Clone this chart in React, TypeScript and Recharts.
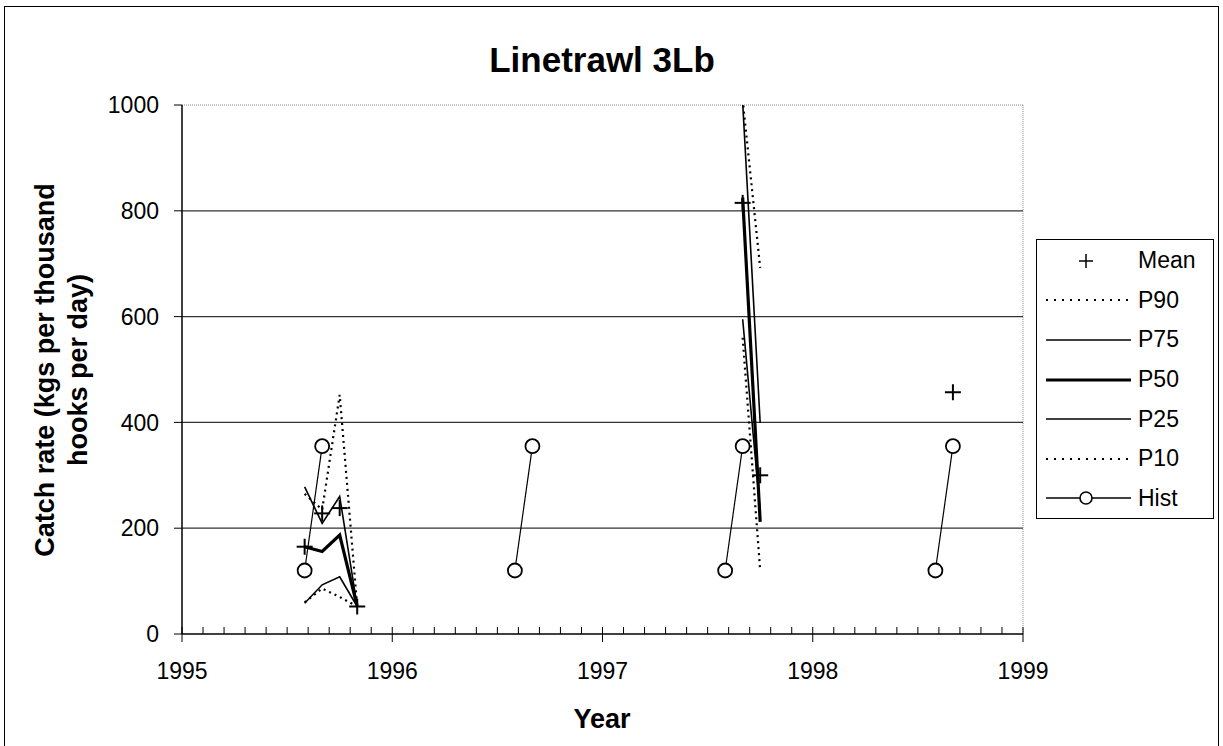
import React from 'react';
import { ComposedChart, Line, XAxis, YAxis, ReferenceLine } from 'recharts';

const FONT = '"Liberation Sans", Arial, Helvetica, sans-serif';

// sampled periods (year + month) across all series
const periodYears = [1995, 1995, 1995, 1995, 1996, 1996, 1997, 1997, 1997, 1998, 1998];
const periodMonths = [7, 8, 9, 10, 7, 8, 7, 8, 9, 7, 8];

const meanValues = [165, 228, 238, 52, null, null, null, 815, 300, null, 457];
const p90Values = [265, 235, 452, 52, null, null, null, 1010, 692, null, null];
const p75Values = [278, 209, 260, 52, null, null, null, 1005, 399, null, null];
const p50Values = [165, 156, 187, 52, null, null, null, 825, 212, null, null];
const p25Values = [58, 93, 108, 52, null, null, null, 595, 232, null, null];
const p10Values = [60, 86, 70, 52, null, null, null, 560, 120, null, null];
const histValues = [120, 355, null, null, 120, 355, 120, 355, null, 120, 355];

const yearTicks = [1995, 1996, 1997, 1998, 1999];
const yTicks = [0, 200, 400, 600, 800, 1000];
const gridValues = [200, 400, 600, 800];
const legendNames = ['Mean', 'P90', 'P75', 'P50', 'P25', 'P10', 'Hist'];

const rows = periodYears.map((y, i) => ({
  year: y,
  x: y + periodMonths[i] / 12,
  mean: meanValues[i],
  p90: p90Values[i],
  p75: p75Values[i],
  p50: p50Values[i],
  p25: p25Values[i],
  p10: p10Values[i],
  hist: histValues[i],
}));

// one hist segment per year
const histYears = Array.from(new Set(periodYears));

// minor ticks every tenth of a year
const xTicks: number[] = [];
yearTicks.forEach((y, i) => {
  if (i === yearTicks.length - 1) {
    xTicks.push(y);
    return;
  }
  for (let k = 0; k < 10; k++) xTicks.push(Math.round((y + k / 10) * 10) / 10);
});

const YearTick = (props: any) => {
  const { x, y, payload } = props;
  const v = payload.value;
  const major = Math.abs(v - Math.round(v)) < 1e-6;
  return (
    <g>
      <line x1={x} x2={x} y1={y - 7} y2={major ? y + 8 : y} stroke="#000" strokeWidth={1} />
      {major && (
        <text x={x} y={y + 45} textAnchor="middle" fontSize={23} fontFamily={FONT} fill="#000">
          {Math.round(v)}
        </text>
      )}
    </g>
  );
};

const PlusDot = (props: any) => {
  const { cx, cy, index } = props;
  if (cx == null || cy == null || props.value == null) return <g key={`m-${index}`} />;
  return (
    <g key={`m-${index}`}>
      <line x1={cx - 8} x2={cx + 8} y1={cy} y2={cy} stroke="#000" strokeWidth={2} />
      <line x1={cx} x2={cx} y1={cy - 8} y2={cy + 8} stroke="#000" strokeWidth={2} />
    </g>
  );
};

const CircleDot = (props: any) => {
  const { cx, cy, index } = props;
  if (cx == null || cy == null) return <g key={`h-${index}`} />;
  return <circle key={`h-${index}`} cx={cx} cy={cy} r={7} fill="#fff" stroke="#000" strokeWidth={1.8} />;
};

const LegendSymbol = ({ name }: { name: string }) => {
  const line = (dash: string | undefined, w: number) => (
    <line x1={9} x2={94} y1={10} y2={10} stroke="#000" strokeWidth={w} strokeDasharray={dash} />
  );
  return (
    <svg width={100} height={20}>
      {name === 'Mean' && (
        <g>
          <line x1={42} x2={56} y1={10} y2={10} stroke="#000" strokeWidth={1.5} />
          <line x1={49} x2={49} y1={3} y2={17} stroke="#000" strokeWidth={1.5} />
        </g>
      )}
      {(name === 'P90' || name === 'P10') && line('2 6', 2)}
      {(name === 'P75' || name === 'P25') && line(undefined, 1.4)}
      {name === 'P50' && line(undefined, 3)}
      {name === 'Hist' && (
        <g>
          {line(undefined, 1.4)}
          <circle cx={49} cy={10} r={6} fill="#fff" stroke="#000" strokeWidth={1.6} />
        </g>
      )}
    </svg>
  );
};

export default function App() {
  return (
    <div style={{ position: 'absolute', left: 0, top: 0, width: 1223, height: 746, background: '#fff', fontFamily: FONT }}>
      <div style={{ position: 'absolute', left: 4, top: 6, width: 1215, height: 745, border: '1px solid #000', boxSizing: 'border-box' }} />
      <ComposedChart
        width={1223}
        height={746}
        data={rows}
        margin={{ top: 105, right: 200, bottom: 0, left: 0 }}
        style={{ position: 'absolute', left: 0, top: 0 }}
      >
        <XAxis
          type="number"
          dataKey="x"
          domain={[1995, 1999]}
          ticks={xTicks}
          interval={0}
          tick={<YearTick />}
          tickLine={false}
          tickSize={0}
          tickMargin={0}
          height={112}
          axisLine={{ stroke: '#000', strokeWidth: 1.5 }}
          allowDataOverflow
        />
        <YAxis
          type="number"
          domain={[0, 1000]}
          ticks={yTicks}
          interval={0}
          width={182}
          tickSize={8}
          tickMargin={15}
          tickLine={{ stroke: '#000' }}
          axisLine={{ stroke: '#000', strokeWidth: 1.5 }}
          tick={{ fill: '#000', fontSize: 23, fontFamily: FONT }}
          allowDataOverflow
        />
        {gridValues.map((g) => (
          <ReferenceLine key={g} y={g} stroke="#333" strokeWidth={1.2} />
        ))}
        <ReferenceLine y={1000} stroke="#888" strokeDasharray="1 1" />
        <ReferenceLine x={1999} stroke="#888" strokeDasharray="1 1" />

        <Line dataKey="p90" stroke="#000" strokeWidth={2.2} strokeDasharray="2 4" dot={false} activeDot={false} connectNulls={false} isAnimationActive={false} />
        <Line dataKey="p10" stroke="#000" strokeWidth={2.2} strokeDasharray="2 4" dot={false} activeDot={false} connectNulls={false} isAnimationActive={false} />
        <Line dataKey="p75" stroke="#000" strokeWidth={1.6} dot={false} activeDot={false} connectNulls={false} isAnimationActive={false} />
        <Line dataKey="p25" stroke="#000" strokeWidth={1.6} dot={false} activeDot={false} connectNulls={false} isAnimationActive={false} />
        <Line dataKey="p50" stroke="#000" strokeWidth={3.2} dot={false} activeDot={false} connectNulls={false} isAnimationActive={false} />
        {histYears.map((y) => (
          <Line
            key={`hist-${y}`}
            data={rows.filter((r) => r.year === y && r.hist != null)}
            dataKey="hist"
            stroke="#000"
            strokeWidth={1.2}
            dot={CircleDot}
            activeDot={false}
            isAnimationActive={false}
          />
        ))}
        <Line dataKey="mean" stroke="none" dot={PlusDot} activeDot={false} isAnimationActive={false} />
      </ComposedChart>

      <svg width={1223} height={746} style={{ position: 'absolute', left: 0, top: 0, pointerEvents: 'none' }}>
        <text x={602} y={72} textAnchor="middle" fontSize={35} fontWeight="bold" fontFamily={FONT} fill="#000">
          Linetrawl 3Lb
        </text>
        <text x={602} y={728} textAnchor="middle" fontSize={27} fontWeight="bold" fontFamily={FONT} fill="#000">
          Year
        </text>
        <text x={45} y={370} textAnchor="middle" dominantBaseline="central" transform="rotate(-90 45 370)" fontSize={27} fontWeight="bold" fontFamily={FONT} fill="#000">
          Catch rate (kgs per thousand
        </text>
        <text x={78} y={370} textAnchor="middle" dominantBaseline="central" transform="rotate(-90 78 370)" fontSize={27} fontWeight="bold" fontFamily={FONT} fill="#000">
          hooks per day)
        </text>
      </svg>

      <div
        style={{
          position: 'absolute',
          left: 1036,
          top: 239,
          width: 178,
          height: 280,
          border: '1px solid #000',
          boxSizing: 'border-box',
          background: '#fff',
          paddingTop: 1,
        }}
      >
        {legendNames.map((n) => (
          <div key={n} style={{ height: 39.6, display: 'flex', alignItems: 'center' }}>
            <LegendSymbol name={n} />
            <span style={{ fontSize: 23, color: '#000', marginLeft: 1 }}>{n}</span>
          </div>
        ))}
      </div>
    </div>
  );
}
